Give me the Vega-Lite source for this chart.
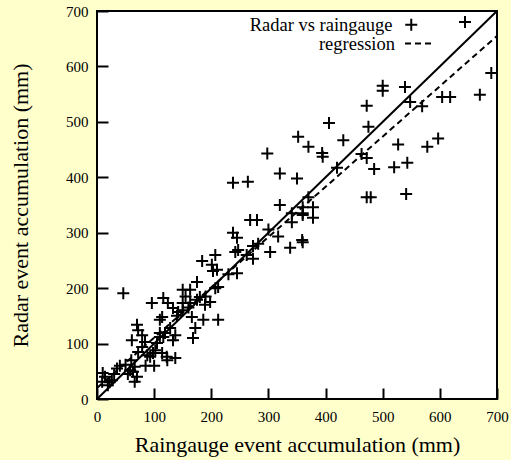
{
  "$schema": "https://vega.github.io/schema/vega-lite/v6.json",
  "width": 400,
  "height": 388,
  "autosize": {"type": "none"},
  "padding": {"left": 97, "top": 11, "right": 14, "bottom": 61},
  "background": "#FFFFCC",
  "config": {
    "view": {"stroke": "black", "strokeWidth": 2, "fill": "white"},
    "font": "Liberation Serif",
    "axis": {
      "grid": false, "domain": false, "offset": -11, "zindex": 1,
      "ticks": true, "tickColor": "black", "tickWidth": 2, "tickSize": 11, "tickOpacity": 1,
      "labelFont": "Liberation Serif", "labelFontSize": 15, "labelColor": "black",
      "labelOverlap": false, "labelFlush": false,
      "titleFont": "Liberation Serif", "titleFontSize": 22, "titleFontWeight": "normal", "titleColor": "black"
    }
  },
  "datasets": {
    "points": [
      {"gauge":10,"radar":47},{"gauge":9,"radar":31},{"gauge":19,"radar":25},{"gauge":26,"radar":34},{"gauge":14,"radar":40},{"gauge":22,"radar":30},{"gauge":35,"radar":55},{"gauge":40,"radar":60},{"gauge":46,"radar":191},{"gauge":50,"radar":62},{"gauge":54,"radar":45},{"gauge":58,"radar":52},{"gauge":63,"radar":49},{"gauge":66,"radar":31},{"gauge":70,"radar":40},{"gauge":66,"radar":58},{"gauge":70,"radar":134},{"gauge":72,"radar":124},{"gauge":61,"radar":106},{"gauge":79,"radar":115},{"gauge":84,"radar":103},{"gauge":72,"radar":85},{"gauge":79,"radar":94},{"gauge":88,"radar":79},{"gauge":98,"radar":83},{"gauge":93,"radar":76},{"gauge":102,"radar":88},{"gauge":105,"radar":101},{"gauge":110,"radar":112},{"gauge":114,"radar":83},{"gauge":122,"radar":76},{"gauge":110,"radar":119},{"gauge":116,"radar":112},{"gauge":133,"radar":106},{"gauge":137,"radar":74},{"gauge":123,"radar":70},{"gauge":110,"radar":143},{"gauge":114,"radar":148},{"gauge":119,"radar":119},{"gauge":137,"radar":115},{"gauge":96,"radar":173},{"gauge":116,"radar":182},{"gauge":124,"radar":173},{"gauge":133,"radar":164},{"gauge":142,"radar":157},{"gauge":150,"radar":160},{"gauge":150,"radar":173},{"gauge":163,"radar":173},{"gauge":175,"radar":179},{"gauge":166,"radar":148},{"gauge":172,"radar":128},{"gauge":186,"radar":143},{"gauge":189,"radar":170},{"gauge":198,"radar":175},{"gauge":212,"radar":143},{"gauge":180,"radar":184},{"gauge":150,"radar":197},{"gauge":163,"radar":197},{"gauge":175,"radar":211},{"gauge":212,"radar":202},{"gauge":184,"radar":249},{"gauge":207,"radar":260},{"gauge":201,"radar":242},{"gauge":210,"radar":233},{"gauge":238,"radar":300},{"gauge":245,"radar":291},{"gauge":242,"radar":265},{"gauge":247,"radar":269},{"gauge":262,"radar":260},{"gauge":273,"radar":253},{"gauge":273,"radar":276},{"gauge":282,"radar":280},{"gauge":303,"radar":265},{"gauge":268,"radar":323},{"gauge":280,"radar":323},{"gauge":300,"radar":306},{"gauge":317,"radar":293},{"gauge":338,"radar":273},{"gauge":359,"radar":287},{"gauge":341,"radar":335},{"gauge":341,"radar":319},{"gauge":360,"radar":335},{"gauge":320,"radar":350},{"gauge":238,"radar":390},{"gauge":264,"radar":392},{"gauge":298,"radar":443},{"gauge":320,"radar":407},{"gauge":350,"radar":398},{"gauge":352,"radar":473},{"gauge":370,"radar":455},{"gauge":394,"radar":444},{"gauge":395,"radar":437},{"gauge":406,"radar":498},{"gauge":431,"radar":467},{"gauge":463,"radar":442},{"gauge":472,"radar":435},{"gauge":485,"radar":415},{"gauge":472,"radar":529},{"gauge":475,"radar":491},{"gauge":420,"radar":417},{"gauge":500,"radar":565},{"gauge":500,"radar":556},{"gauge":539,"radar":563},{"gauge":527,"radar":459},{"gauge":520,"radar":418},{"gauge":543,"radar":426},{"gauge":548,"radar":536},{"gauge":569,"radar":528},{"gauge":604,"radar":545},{"gauge":618,"radar":545},{"gauge":670,"radar":549},{"gauge":690,"radar":588},{"gauge":644,"radar":680},{"gauge":597,"radar":470},{"gauge":578,"radar":455},{"gauge":472,"radar":364},{"gauge":479,"radar":364},{"gauge":541,"radar":370},{"gauge":370,"radar":364},{"gauge":360,"radar":346},{"gauge":378,"radar":346},{"gauge":378,"radar":327},{"gauge":360,"radar":332},{"gauge":360,"radar":283},{"gauge":245,"radar":227},{"gauge":190,"radar":185},{"gauge":160,"radar":165},{"gauge":140,"radar":150},{"gauge":155,"radar":185},{"gauge":168,"radar":110},{"gauge":207,"radar":200},{"gauge":128,"radar":128},{"gauge":100,"radar":60},{"gauge":85,"radar":60},{"gauge":30,"radar":45},{"gauge":60,"radar":70},{"gauge":203,"radar":231},{"gauge":230,"radar":225}
    ],
    "identity": [{"gauge":0,"radar":0},{"gauge":700,"radar":700}],
    "regression": [{"gauge":0,"radar":20},{"gauge":700,"radar":655}]
  },
  "layer": [
    {
      "data": {"name": "identity"},
      "mark": {"type": "line", "color": "black", "strokeWidth": 2},
      "encoding": {
        "x": {"field": "gauge", "type": "quantitative", "scale": {"domain": [0, 700], "nice": false},
              "axis": {"values": [0,50,100,150,200,250,300,350,400,450,500,550,600,650,700], "title": "Raingauge event accumulation (mm)", "ticks": true, "labelPadding": 10, "titlePadding": 10}},
        "y": {"field": "radar", "type": "quantitative", "scale": {"domain": [0, 700], "nice": false},
              "axis": {"values": [0,50,100,150,200,250,300,350,400,450,500,550,600,650,700], "title": "Radar event accumulation (mm)", "ticks": true, "labelPadding": 9, "titlePadding": 33}}
      }
    },
    {
      "data": {"name": "regression"},
      "mark": {"type": "line", "color": "black", "strokeWidth": 2, "strokeDash": [6, 4]},
      "encoding": {
        "x": {"field": "gauge", "type": "quantitative"},
        "y": {"field": "radar", "type": "quantitative"},
        "strokeDash": {
          "datum": "regression",
          "scale": {"domain": ["regression"], "range": [[6, 4]]},
          "legend": {
            "title": null, "orient": "none", "legendX": 307, "legendY": 18.5, "padding": 0,
            "labelFont": "Liberation Serif", "labelFontSize": 18.5, "labelColor": "black",
            "labelAlign": "right", "labelOffset": -37,
            "symbolType": "stroke", "symbolSize": 676,
            "symbolStrokeColor": "black", "symbolStrokeWidth": 2
          }
        }
      }
    },
    {
      "data": {"name": "points"},
      "mark": {"type": "point", "filled": false, "stroke": "black", "strokeWidth": 2, "size": 144, "opacity": 1},
      "encoding": {
        "x": {"field": "gauge", "type": "quantitative"},
        "y": {"field": "radar", "type": "quantitative"},
        "shape": {
          "datum": "Radar vs raingauge",
          "scale": {"domain": ["Radar vs raingauge"], "range": ["M-1,0L1,0M0,-1L0,1"]},
          "legend": {
            "title": null, "orient": "none", "legendX": 305, "legendY": 4.5, "padding": 0,
            "labelFont": "Liberation Serif", "labelFontSize": 18.5, "labelColor": "black",
            "labelAlign": "right", "labelOffset": -28,
            "symbolStrokeColor": "black", "symbolStrokeWidth": 2, "symbolFillColor": "transparent", "symbolSize": 144
          }
        }
      }
    }
  ]
}
